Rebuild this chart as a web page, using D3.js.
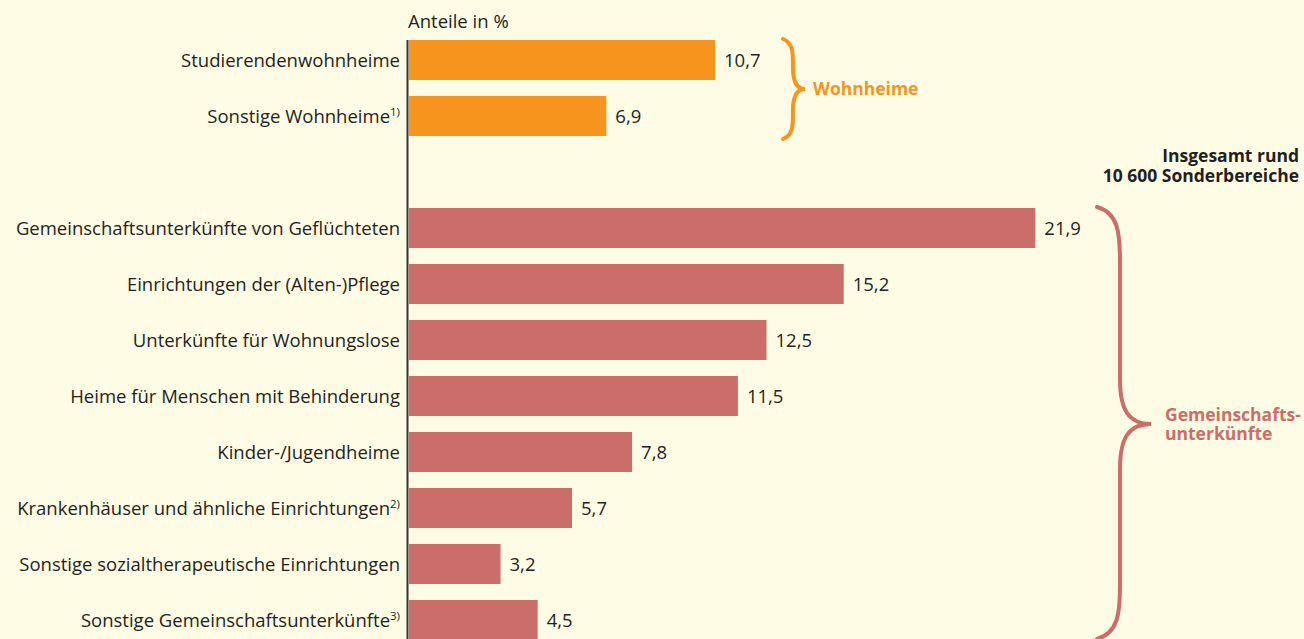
<!DOCTYPE html>
<html>
<head>
<meta charset="utf-8">
<script src="https://cdn.jsdelivr.net/npm/d3@7"></script>
<style>
  body { margin: 0; background: #fffce5; }
  svg { display: block; font-family: "Open Sans", "Liberation Sans", Arial, sans-serif; }
</style>
</head>
<body>
<svg id="chart" width="1304" height="639"></svg>
<script>
// Data
const wohnheimCats = ["Studierendenwohnheime", "Sonstige Wohnheime"];
const wohnheimVals = [10.7, 6.9];
const gemeinCats = [
  "Gemeinschaftsunterkünfte von Geflüchteten",
  "Einrichtungen der (Alten-)Pflege",
  "Unterkünfte für Wohnungslose",
  "Heime für Menschen mit Behinderung",
  "Kinder-/Jugendheime",
  "Krankenhäuser und ähnliche Einrichtungen",
  "Sonstige sozialtherapeutische Einrichtungen",
  "Sonstige Gemeinschaftsunterkünfte"
];
const gemeinVals = [21.9, 15.2, 12.5, 11.5, 7.8, 5.7, 3.2, 4.5];
// footnote markers per category
const footnotes = {
  "Sonstige Wohnheime": "1)",
  "Krankenhäuser und ähnliche Einrichtungen": "2)",
  "Sonstige Gemeinschaftsunterkünfte": "3)"
};

const orange = "#f7941e";
const red = "#cb6d68";
const textColor = "#231f20";

const svg = d3.select("#chart");
const width = 1304, height = 639;

svg.append("rect").attr("width", width).attr("height", height).attr("fill", "#fffce5");

// rows, with an empty spacer between the two groups
const rows = [...wohnheimCats, "__gap__", ...gemeinCats];
const data = [
  ...wohnheimCats.map((c, i) => ({ cat: c, val: wohnheimVals[i], color: orange })),
  ...gemeinCats.map((c, i) => ({ cat: c, val: gemeinVals[i], color: red }))
];

const pi = 16 / 56;
const y = d3.scaleBand()
  .domain(rows)
  .range([32, 32 + rows.length * 56])
  .paddingInner(pi)
  .paddingOuter(pi / 2);

const x0 = 409;
const x = d3.scaleLinear()
  .domain([0, 22])
  .range([x0, x0 + 22 * 28.6]);

// bars
svg.selectAll("rect.bar")
  .data(data)
  .enter()
  .append("rect")
  .attr("class", "bar")
  .attr("x", x(0))
  .attr("y", d => y(d.cat))
  .attr("width", d => x(d.val) - x(0))
  .attr("height", y.bandwidth())
  .attr("fill", d => d.color);

// value labels
svg.selectAll("text.val")
  .data(data)
  .enter()
  .append("text")
  .attr("class", "val")
  .attr("x", d => x(d.val) + 9)
  .attr("y", d => y(d.cat) + y.bandwidth() / 2)
  .attr("dy", "0.36em")
  .attr("font-size", 18.5)
  .attr("fill", textColor)
  .text(d => String(d.val.toFixed(1)).replace(".", ","));

// category labels
const labels = svg.selectAll("text.cat")
  .data(data)
  .enter()
  .append("text")
  .attr("class", "cat")
  .attr("x", 400)
  .attr("y", d => y(d.cat) + y.bandwidth() / 2)
  .attr("dy", "0.36em")
  .attr("text-anchor", "end")
  .attr("font-size", 18.5)
  .attr("fill", textColor);
labels.append("tspan").text(d => d.cat);
labels.filter(d => footnotes[d.cat])
  .append("tspan")
  .attr("font-size", 11.5)
  .attr("dy", "-0.6em")
  .text(d => footnotes[d.cat]);

// axis line
svg.append("line")
  .attr("x1", 407.5).attr("x2", 407.5)
  .attr("y1", 40).attr("y2", height)
  .attr("stroke", "#3a3030")
  .attr("stroke-width", 2);

svg.append("text")
  .attr("x", 408).attr("y", 28)
  .attr("font-size", 18.5)
  .attr("fill", textColor)
  .text("Anteile in %");

// braces
function brace(xl, xt, yt, yb, bend) {
  const ym = (yt + yb) / 2;
  const xv = xl + (xt - xl) * bend;
  return `M${xl},${yt}` +
    `C${xv},${yt + 4} ${xv},${yt + 14} ${xv},${yt + 22}` +
    `L${xv},${ym - 22}` +
    `C${xv},${ym - 8} ${xv + 4},${ym} ${xt},${ym}` +
    `C${xv + 4},${ym} ${xv},${ym + 8} ${xv},${ym + 22}` +
    `L${xv},${yb - 22}` +
    `C${xv},${yb - 14} ${xv},${yb - 4} ${xl},${yb}`;
}

const wTop = y(wohnheimCats[0]) - 1;
const wBot = y(wohnheimCats[1]) + y.bandwidth() + 3;
svg.append("path")
  .attr("d", brace(783, 805, wTop, wBot, 0.45))
  .attr("fill", "none")
  .attr("stroke", orange)
  .attr("stroke-width", 4)
  .attr("stroke-linecap", "round");
svg.append("text")
  .attr("x", 813).attr("y", (wTop + wBot) / 2)
  .attr("dy", "0.36em")
  .attr("font-size", 17.5)
  .attr("font-weight", "bold")
  .attr("fill", orange)
  .text("Wohnheime");

// big brace for Gemeinschaftsunterkünfte
function bigBrace(xl, xt, yt, ym, yb) {
  const xv = xl + 23;
  return `M${xl},${yt}` +
    `C${xv - 2},${yt + 6} ${xv},${yt + 25} ${xv},${yt + 55}` +
    `L${xv},${ym - 45}` +
    `C${xv},${ym - 15} ${xv + 8},${ym} ${xt},${ym}` +
    `C${xv + 8},${ym} ${xv},${ym + 15} ${xv},${ym + 45}` +
    `L${xv},${yb - 55}` +
    `C${xv},${yb - 25} ${xv - 2},${yb - 6} ${xl},${yb}`;
}
const gTop = y(gemeinCats[0]) - 1;
const gMid = 424;
const gBot = 2 * gMid - gTop - 2;
svg.append("path")
  .attr("d", bigBrace(1097, 1151, gTop, gMid, gBot))
  .attr("fill", "none")
  .attr("stroke", red)
  .attr("stroke-width", 4)
  .attr("stroke-linecap", "round");
["Gemeinschafts-", "unterkünfte"].forEach((t, i) => {
  svg.append("text")
    .attr("x", 1165).attr("y", 421 + i * 19)
    .attr("font-size", 17.5)
    .attr("font-weight", "bold")
    .attr("fill", red)
    .text(t);
});

["Insgesamt rund", "10 600 Sonderbereiche"].forEach((t, i) => {
  svg.append("text")
    .attr("x", 1299).attr("y", 162 + i * 20)
    .attr("text-anchor", "end")
    .attr("font-size", 17.5)
    .attr("font-weight", "bold")
    .attr("fill", textColor)
    .text(t);
});
</script>
</body>
</html>
